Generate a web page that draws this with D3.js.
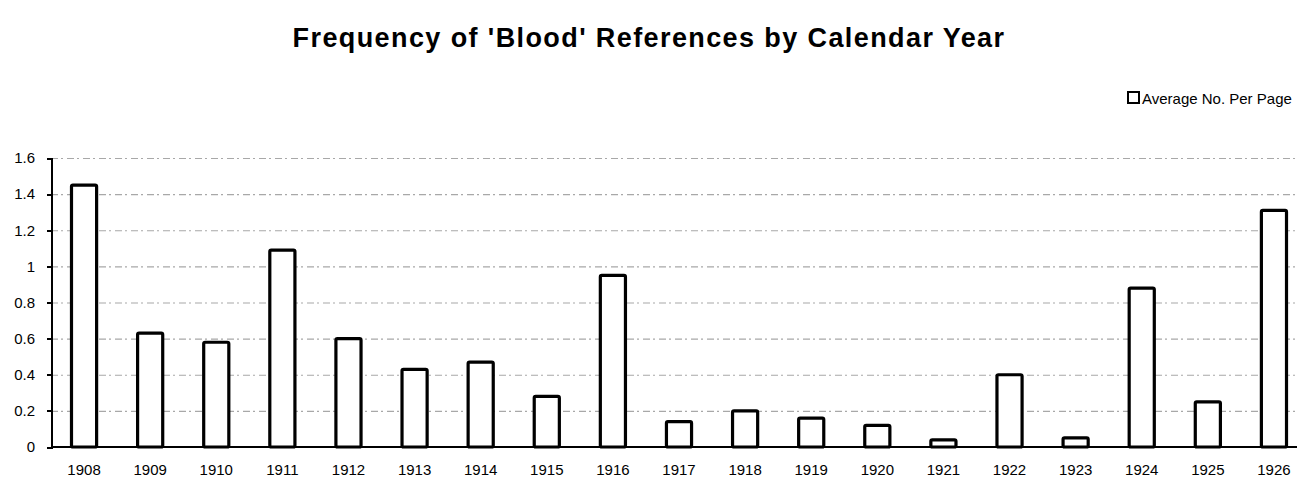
<!DOCTYPE html>
<html>
<head>
<meta charset="utf-8">
<script src="https://cdn.jsdelivr.net/npm/d3@7"></script>
<style>
body { margin: 0; background: #fff; }
svg { display: block; font-family: "Liberation Sans", Arial, sans-serif; }
.axis path, .axis line { stroke: #000; stroke-width: 2; shape-rendering: crispEdges; }
.axis text { font-size: 15px; fill: #000; }
.grid line { stroke: #a8a8a8; stroke-width: 1.2; stroke-dasharray: 7,3,2,4; }
.grid path { display: none; }
.bar { fill: #fff; stroke: #000; stroke-width: 3.2; }
</style>
</head>
<body>
<div id="chart"></div>
<script>
var years = ["1908", "1909", "1910", "1911", "1912", "1913", "1914", "1915", "1916", "1917",
             "1918", "1919", "1920", "1921", "1922", "1923", "1924", "1925", "1926"];
var avgPerPage = [1.45, 0.63, 0.58, 1.09, 0.60, 0.43, 0.47, 0.28, 0.95, 0.14,
                  0.20, 0.16, 0.12, 0.04, 0.40, 0.05, 0.88, 0.25, 1.31];
var yTicks = [0, 0.2, 0.4, 0.6, 0.8, 1, 1.2, 1.4, 1.6];

var W = 1297, H = 483;
var margin = {top: 158, right: -10, bottom: 36, left: 51},
    w = W - margin.left - margin.right,
    h = H - margin.top - margin.bottom;

var svg = d3.select("#chart")
            .append("svg")
            .attr("width", W)
            .attr("height", H);

// title
svg.append("text")
   .attr("x", 649)
   .attr("y", 47)
   .attr("text-anchor", "middle")
   .style("font-size", "27px")
   .style("font-weight", "bold")
   .style("letter-spacing", "1.4px")
   .text("Frequency of 'Blood' References by Calendar Year");

// legend
svg.append("rect")
   .attr("x", 1128)
   .attr("y", 92)
   .attr("width", 11)
   .attr("height", 11)
   .attr("fill", "#fff")
   .attr("stroke", "#000")
   .attr("stroke-width", 2);
svg.append("text")
   .attr("x", 1142)
   .attr("y", 104)
   .style("font-size", "15px")
   .text("Average No. Per Page");

var g = svg.append("g")
           .attr("transform", "translate(" + margin.left + "," + margin.top + ")");

var xScale = d3.scaleBand()
               .domain(years)
               .range([0, w])
               .paddingInner(0.62)
               .paddingOuter(0.31);
var yScale = d3.scaleLinear()
               .domain([0, 1.6])
               .range([h, 0]);

/*Grid*/
g.append("g")
 .attr("class", "grid")
 .call(d3.axisLeft(yScale).tickValues(yTicks.slice(1)).tickSize(-w).tickFormat(""));

/*Bars*/
g.selectAll(".bar")
 .data(years)
 .enter()
 .append("rect")
 .attr("class", "bar")
 .attr("x", function(d) { return xScale(d); })
 .attr("y", function(d, i) { return yScale(avgPerPage[i]); })
 .attr("width", xScale.bandwidth())
 .attr("height", function(d, i) { return h - yScale(avgPerPage[i]); })
 .attr("rx", 1.5);

/*Axes*/
var yAxis = d3.axisLeft(yScale)
              .tickValues(yTicks)
              .tickSize(4)
              .tickPadding(12)
              .tickFormat(function(d) { return d3.format("")(d); });
g.append("g")
 .attr("class", "axis")
 .call(yAxis);

var xAxis = d3.axisBottom(xScale)
              .tickSize(0)
              .tickPadding(17);
var xg = g.append("g")
          .attr("class", "axis")
          .attr("transform", "translate(0," + h + ")")
          .call(xAxis);
xg.select(".domain").attr("d", "M0,0H" + w);
</script>
</body>
</html>
